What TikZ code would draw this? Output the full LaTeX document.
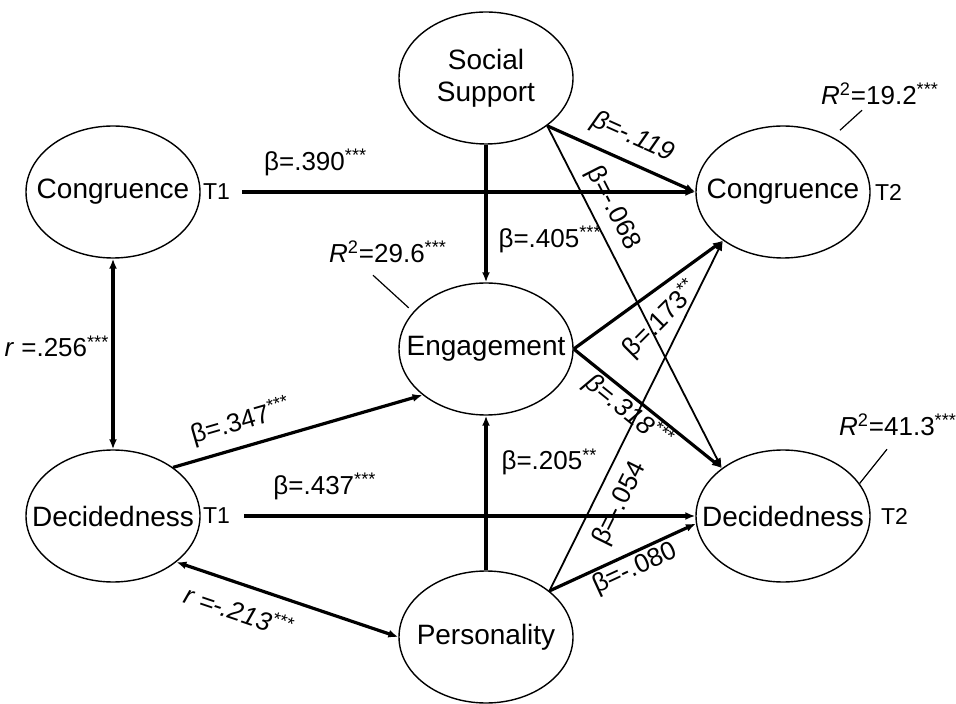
\documentclass[tikz,border=0pt]{standalone}
\usepackage{fontspec}
\setmainfont{Liberation Sans}
\usepackage{tikz}
\usetikzlibrary{shapes,arrows.meta,positioning,calc}

\newcommand{\nowide}[1]{\makebox[0pt]{#1}}

\begin{document}
\begin{tikzpicture}[x=0.5pt, y=-0.5pt, >={Latex[length=5pt,width=4pt]},
    latent/.style={draw, ellipse, line width=0.7pt, minimum width=87pt, minimum height=66pt, inner sep=0pt, align=center, font=\fontsize{14}{16}\selectfont},
    strong/.style={line width=1.6pt},
    weak/.style={line width=0.9pt},
    coef/.style={inner sep=1pt, font=\fontsize{13}{15}\selectfont},
    wave/.style={inner sep=1pt, font=\fontsize{11.5}{13}\selectfont},
    pinline/.style={line width=0.6pt}]
    \useasboundingbox (0,0) rectangle (956,704);

    \node [latent] (social) at (486,78) {\nowide{Social}\\\nowide{Support}};
    \node [latent] (cong1) at (113,192) {\nowide{Congruence}};
    \node [latent] (decid1) at (113,516) {\nowide{Decidedness}};
    \node [latent] (engage) at (486,349) {\nowide{Engagement}};
    \node [latent] (person) at (486,637) {\nowide{Personality}};
    \node [latent] (cong2) at (783,192) {\nowide{Congruence}};
    \node [latent] (decid2) at (783,516) {\nowide{Decidedness}};

    \node [wave, right=0pt of cong1] (t1a) {T1};
    \node [wave, right=0pt of decid1] (t1b) {T1};
    \node [wave, right=1pt of cong2] (t2a) {T2};
    \node [wave, right=4pt of decid2] (t2b) {T2};

    \draw [->, strong, shorten <=5pt] (t1a) -- node[coef, pos=0.18, above=6.2pt] {β=.390\textsuperscript{***}} (cong2);
    \draw [->, strong, shorten <=6pt] (t1b) -- node[coef, pos=0.2, above=6.2pt] {β=.437\textsuperscript{***}} (decid2);
    \draw [<->, strong] (cong1) -- node[coef, pos=0.46, left=0pt] {\textit{r} =.256\textsuperscript{***}} (decid1);
    \draw [->, strong] (social) -- node[coef, pos=0.69, right=4.5pt] {β=.405\textsuperscript{***}} (engage);
    \draw [->, strong] (person) -- node[coef, pos=0.7, right=6pt] {β=.205\textsuperscript{**}} (engage);
    \draw [->, strong] (decid1.39) -- node[coef, pos=0.3, sloped, above=4pt] {β=.347\textsuperscript{***}} (engage.216);
    \draw [<->, strong] (decid1.-36) -- node[coef, pos=0.32, sloped, below=6pt] {\itshape r =-.213\textsuperscript{***}} (person.west);

    \draw [->, strong] (social.-38) -- node[coef, pos=0.51, sloped, above=4.5pt] {\itshape β=-.119} (cong2.west);
    \draw [->, weak] (social.-38) -- node[coef, pos=0.27, sloped, above=3pt] {β=-.068} (decid2.142);
    \draw [->, strong] (engage.east) -- (cong2.219);
    \draw [->, strong] (engage.east) -- node[coef, pos=0.43, sloped, below=-1pt] {\itshape β=.318\textsuperscript{***}} (decid2.142);
    \draw [->, weak] (person.36) -- node[coef, pos=0.28, sloped, below=4.8pt] {β=-.054} (cong2.219);
    \draw [->, strong] (person.36) -- node[coef, pos=0.54, sloped, below=0pt] {β=-.080} (decid2.185);
    \node [coef, rotate=45] (b173) at (661,319) {β=.173\textsuperscript{**}};

    \node [coef] (rcong) at (880,94) {\textit{R}\textsuperscript{2}=19.2\textsuperscript{***}};
    \node [coef] (rengage) at (388,252) {\textit{R}\textsuperscript{2}=29.6\textsuperscript{***}};
    \node [coef] (rdecid) at (898,425) {\textit{R}\textsuperscript{2}=41.3\textsuperscript{***}};
    \draw [pinline, shorten <=5pt] (cong2.48) -- ([shift={(-18,3)}]rcong.south);
    \draw [pinline, shorten <=3pt] (engage.153) -- ([shift={(-15,10)}]rengage.south);
    \draw [pinline] (decid2.23) -- ([shift={(-11,11)}]rdecid.south);
\end{tikzpicture}
\end{document}
